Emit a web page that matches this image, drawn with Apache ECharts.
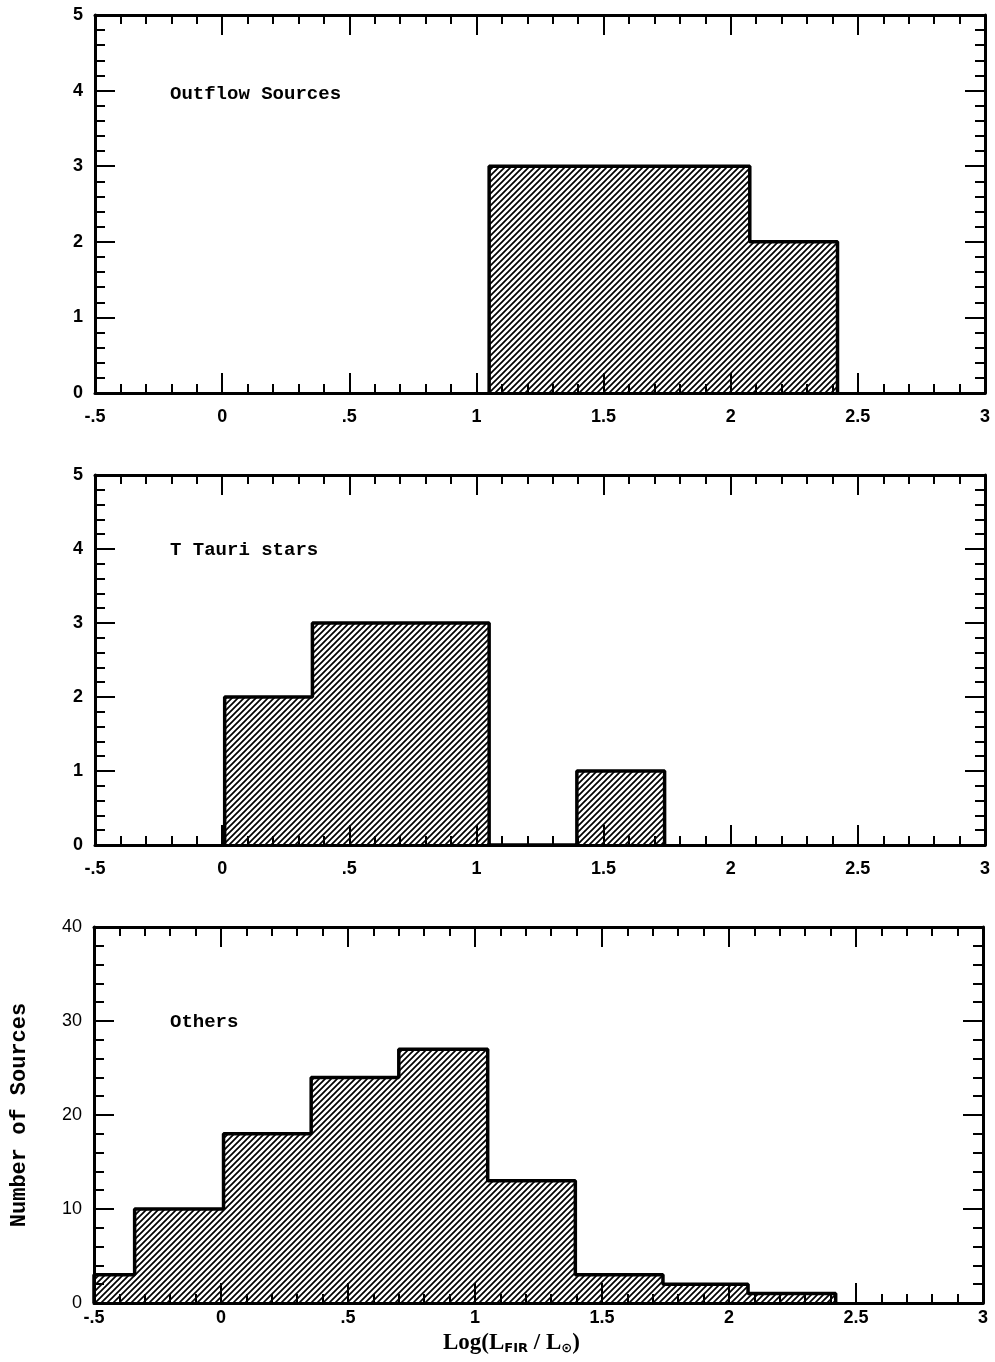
<!DOCTYPE html>
<html>
<head>
<meta charset="utf-8">
<script src="https://cdn.jsdelivr.net/npm/echarts@6/dist/echarts.min.js"></script>
<style>
html, body { margin: 0; padding: 0; background: #fff; }
#chart { width: 995px; height: 1362px; }
</style>
</head>
<body>
<div id="chart"></div>
<script>
// bin edges of Log(L_FIR / L_sun), first bin is cut by the axis at -0.5
var binEdges = [-0.5, -0.34, 0.01, 0.355, 0.70, 1.05, 1.395, 1.74, 2.075, 2.42];
var outflowCounts = [0, 0, 0, 0, 0, 3, 3, 3, 2];
var tTauriCounts = [0, 0, 2, 3, 3, 0, 1, 0, 0];
var othersCounts = [3, 10, 18, 24, 27, 13, 3, 2, 1];
var panelNames = ['Outflow Sources', 'T Tauri stars', 'Others'];
var yMax = [5, 5, 40];
var yStep = [1, 1, 10];

var chart = echarts.init(document.getElementById('chart'));

function makeHatch() {
    var s = 6;
    var c = document.createElement('canvas');
    c.width = s;
    c.height = s;
    var g = c.getContext('2d');
    g.strokeStyle = '#000';
    g.lineWidth = 1.7;
    g.beginPath();
    g.moveTo(-1, s + 1); g.lineTo(s + 1, -1);
    g.moveTo(-s / 2 - 1, s / 2 + 1); g.lineTo(s / 2 + 1, -s / 2 - 1);
    g.moveTo(s / 2 - 1, s * 1.5 + 1); g.lineTo(s * 1.5 + 1, s / 2 - 1);
    g.stroke();
    return c;
}
var hatchFill = { image: makeHatch(), repeat: 'repeat' };

// outline of the histogram as a step line
function stepPoints(counts) {
    var first = -1, last = -1;
    for (var i = 0; i < counts.length; i++) {
        if (counts[i] > 0) {
            if (first < 0) first = i;
            last = i;
        }
    }
    var pts = [[binEdges[first], 0]];
    for (var j = first; j <= last; j++) {
        pts.push([binEdges[j], counts[j]]);
    }
    pts.push([binEdges[last + 1], 0]);
    return pts;
}

function xFmt(v) {
    if (v === 0) return '0';
    if (Math.abs(v) < 1) return (v < 0 ? '-' : '') + String(Math.abs(v)).replace(/^0/, '');
    return String(v);
}

var grids = [
    { left: 95, right: 10, top: 15, height: 378 },
    { left: 95, right: 10, top: 475, height: 370 },
    { left: 94, right: 12, top: 927, height: 376 }
];
var allCounts = [outflowCounts, tTauriCounts, othersCounts];

var xAxes = [], yAxes = [], series = [], titles = [];
var labelTop = [80, 536, 1008];

for (var p = 0; p < 3; p++) {
    [false, true].forEach(function (isTop) {
        xAxes.push({
            type: 'value',
            gridIndex: p,
            position: isTop ? 'top' : 'bottom',
            min: -0.5,
            max: 3,
            interval: 0.5,
            axisLine: { show: true, onZero: false, lineStyle: { color: '#000', width: 3 } },
            axisTick: { show: true, inside: true, length: 20, lineStyle: { color: '#000', width: 2 } },
            minorTick: { show: true, splitNumber: 5, length: 9, lineStyle: { color: '#000', width: 2 } },
            splitLine: { show: false },
            axisLabel: {
                show: !isTop,
                margin: p === 2 ? 6 : 15,
                formatter: xFmt,
                color: '#000',
                fontFamily: 'Liberation Sans',
                fontWeight: 'bold',
                fontSize: 18
            }
        });
    });
    [false, true].forEach(function (isRight) {
        var ax = {
            type: 'value',
            gridIndex: p,
            position: isRight ? 'right' : 'left',
            min: 0,
            max: yMax[p],
            interval: yStep[p],
            axisLine: { show: true, onZero: false, lineStyle: { color: '#000', width: 3 } },
            axisTick: { show: true, inside: true, length: 20, lineStyle: { color: '#000', width: 2 } },
            minorTick: { show: true, splitNumber: 5, length: 10, lineStyle: { color: '#000', width: 2 } },
            splitLine: { show: false },
            axisLabel: {
                show: !isRight,
                margin: 12,
                color: '#000',
                fontFamily: 'Liberation Sans',
                fontWeight: p === 2 ? 'normal' : 'bold',
                fontSize: 18
            }
        };
        if (p === 2 && !isRight) {
            ax.name = 'Number of Sources';
            ax.nameLocation = 'middle';
            ax.nameGap = 64;
            ax.nameTextStyle = {
                color: '#000',
                fontFamily: 'Liberation Mono',
                fontWeight: 'bold',
                fontSize: 22
            };
        }
        yAxes.push(ax);
    });
    series.push({
        type: 'line',
        xAxisIndex: 2 * p,
        yAxisIndex: 2 * p,
        step: 'end',
        symbol: 'none',
        data: stepPoints(allCounts[p]),
        lineStyle: { color: '#000', width: 3.5 },
        areaStyle: { color: hatchFill, opacity: 1 },
        z: 3
    });
    titles.push({
        text: panelNames[p],
        left: 165,
        top: labelTop[p],
        textStyle: {
            color: '#000',
            fontFamily: 'Liberation Mono',
            fontWeight: 'bold',
            fontSize: 19
        }
    });
}

titles.push({
    text: 'Log(L{s|FIR} / L{s|⊙})',
    left: 438,
    top: 1327,
    textStyle: {
        color: '#000',
        fontFamily: 'Liberation Serif',
        fontWeight: 'bold',
        fontSize: 23,
        rich: {
            s: {
                fontFamily: 'DejaVu Sans',
                fontWeight: 'bold',
                fontSize: 13,
                verticalAlign: 'bottom',
                padding: [9, 0, 0, 0]
            }
        }
    }
});

var option = {
    backgroundColor: '#fff',
    animation: false,
    title: titles,
    grid: grids,
    xAxis: xAxes,
    yAxis: yAxes,
    series: series
};
chart.setOption(option);
</script>
</body>
</html>
